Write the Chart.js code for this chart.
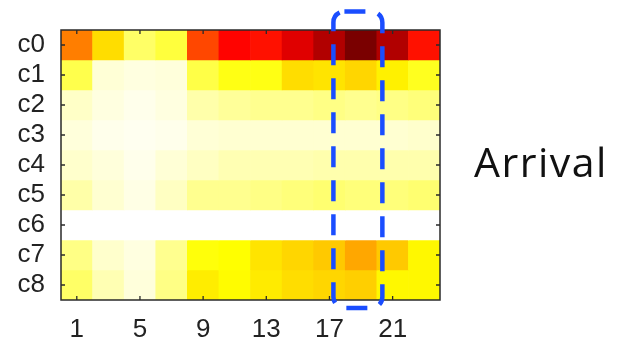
<!DOCTYPE html>
<html>
<head>
<meta charset="utf-8">
<script src="https://cdn.jsdelivr.net/npm/chart.js@4.4.0/dist/chart.umd.min.js"></script>
<style>
  html, body { margin: 0; padding: 0; background: #fff; }
  #wrap { position: relative; width: 621px; height: 339px; }
  #label {
    position: absolute; left: 474px; top: 133px;
    font-family: "Open Sans", sans-serif; font-size: 41px; letter-spacing: 1.5px; color: #111;
  }
</style>
</head>
<body>
<div id="wrap">
  <canvas id="heat" width="621" height="339"></canvas>
  <div id="label">Arrival</div>
</div>
<script>
// rows (top to bottom) and column centres (hours)
const rowLabels = ["c0", "c1", "c2", "c3", "c4", "c5", "c6", "c7", "c8"];
const hours = [1, 3, 5, 7, 9, 11, 13, 15, 17, 19, 21, 23];
const xTickValues = [1, 5, 9, 13, 17, 21];

// intensity per row, 0 = white, 1 = black (reversed "hot" map)
const c0 = [0.44, 0.30, 0.15, 0.19, 0.52, 0.62, 0.60, 0.67, 0.74, 0.82, 0.74, 0.60];
const c1 = [0.175, 0.04, 0.03, 0.035, 0.18, 0.23, 0.23, 0.30, 0.29, 0.31, 0.27, 0.22];
const c2 = [0.055, 0.03, 0.02, 0.03, 0.083, 0.10, 0.11, 0.11, 0.12, 0.11, 0.12, 0.13];
const c3 = [0.035, 0.02, 0.015, 0.02, 0.04, 0.045, 0.045, 0.045, 0.045, 0.045, 0.045, 0.05];
const c4 = [0.05, 0.035, 0.02, 0.04, 0.06, 0.075, 0.075, 0.075, 0.08, 0.08, 0.08, 0.08];
const c5 = [0.085, 0.045, 0.025, 0.06, 0.11, 0.11, 0.12, 0.13, 0.14, 0.13, 0.13, 0.14];
const c6 = [0, 0, 0, 0, 0, 0, 0, 0, 0, 0, 0, 0];
const c7 = [0.12, 0.05, 0.03, 0.11, 0.24, 0.25, 0.29, 0.31, 0.33, 0.38, 0.33, 0.26];
const c8 = [0.15, 0.075, 0.035, 0.12, 0.276, 0.255, 0.28, 0.30, 0.31, 0.32, 0.26, 0.26];
const rows = [c0, c1, c2, c3, c4, c5, c6, c7, c8];

// highlighted column (dashed box), in data units
const boxX = [17.25, 20.35];
const boxY = [-1.12, 8.77];

function clamp(v) { return Math.max(0, Math.min(1, v)); }
function hotReversed(v) {
    const t = 1 - v;
    const r = clamp(t / 0.375);
    const g = clamp((t - 0.375) / 0.375);
    const b = clamp((t - 0.75) / 0.25);
    return "rgb(" + Math.round(r * 255) + "," + Math.round(g * 255) + "," + Math.round(b * 255) + ")";
}

const datasets = rows.map((vals, i) => ({
    label: rowLabels[i],
    data: hours.map(h => ({ x: h, y: [i - 0.5, i + 0.5] })),
    backgroundColor: vals.map(hotReversed),
    borderWidth: 0,
    grouped: false,
    barPercentage: 1,
    categoryPercentage: 1,
}));

const frame = {
    id: "frame",
    afterDraw(chart) {
        const { ctx, chartArea: a, scales: { x, y } } = chart;
        ctx.save();
        ctx.strokeStyle = "#2a2a2a";
        ctx.lineWidth = 1.5;
        ctx.strokeRect(a.left, a.top, a.right - a.left, a.bottom - a.top);
        ctx.lineWidth = 1.3;
        ctx.beginPath();
        x.ticks.forEach(t => {
            const px = x.getPixelForValue(t.value);
            ctx.moveTo(px, a.top); ctx.lineTo(px, a.top + 4);
            ctx.moveTo(px, a.bottom); ctx.lineTo(px, a.bottom - 4);
        });
        y.ticks.forEach(t => {
            const py = y.getPixelForValue(t.value);
            ctx.moveTo(a.left, py); ctx.lineTo(a.left + 4, py);
            ctx.moveTo(a.right, py); ctx.lineTo(a.right - 4, py);
        });
        ctx.stroke();

        // dashed highlight box
        const l = x.getPixelForValue(boxX[0]), r = x.getPixelForValue(boxX[1]);
        const t = y.getPixelForValue(boxY[0]), b = y.getPixelForValue(boxY[1]);
        ctx.strokeStyle = "#1a4dff";
        ctx.lineWidth = 4.5;
        ctx.setLineDash([21, 13]);
        ctx.beginPath();
        ctx.roundRect(l, t, r - l, b - t, 11);
        ctx.stroke();
        ctx.restore();
    }
};

new Chart(document.getElementById("heat"), {
    type: "bar",
    data: { datasets },
    options: {
        responsive: false,
        animation: false,
        layout: { padding: { top: 30, right: 181, left: 0, bottom: 0 } },
        plugins: { legend: { display: false }, tooltip: { enabled: false } },
        scales: {
            x: {
                type: "linear",
                offset: false,
                min: 0,
                max: 24,
                afterBuildTicks: s => { s.ticks = xTickValues.map(v => ({ value: v })); },
                afterFit: s => { s.height = 39; },
                grid: { display: false, offset: false },
                border: { display: false },
                ticks: {
                    padding: 6,
                    autoSkip: false,
                    color: "#222",
                    font: { family: "Liberation Sans", size: 26 },
                    maxRotation: 0,
                },
            },
            y: {
                type: "linear",
                reverse: true,
                min: -0.5,
                max: 8.5,
                afterBuildTicks: s => { s.ticks = rowLabels.map((_, i) => ({ value: i })); },
                afterFit: s => { s.width = 61; },
                grid: { display: false },
                border: { display: false },
                ticks: {
                    padding: 8,
                    autoSkip: false,
                    color: "#222",
                    font: { family: "Liberation Sans", size: 26 },
                    callback: v => rowLabels[v],
                },
            },
        },
    },
    plugins: [frame],
});
</script>
</body>
</html>
